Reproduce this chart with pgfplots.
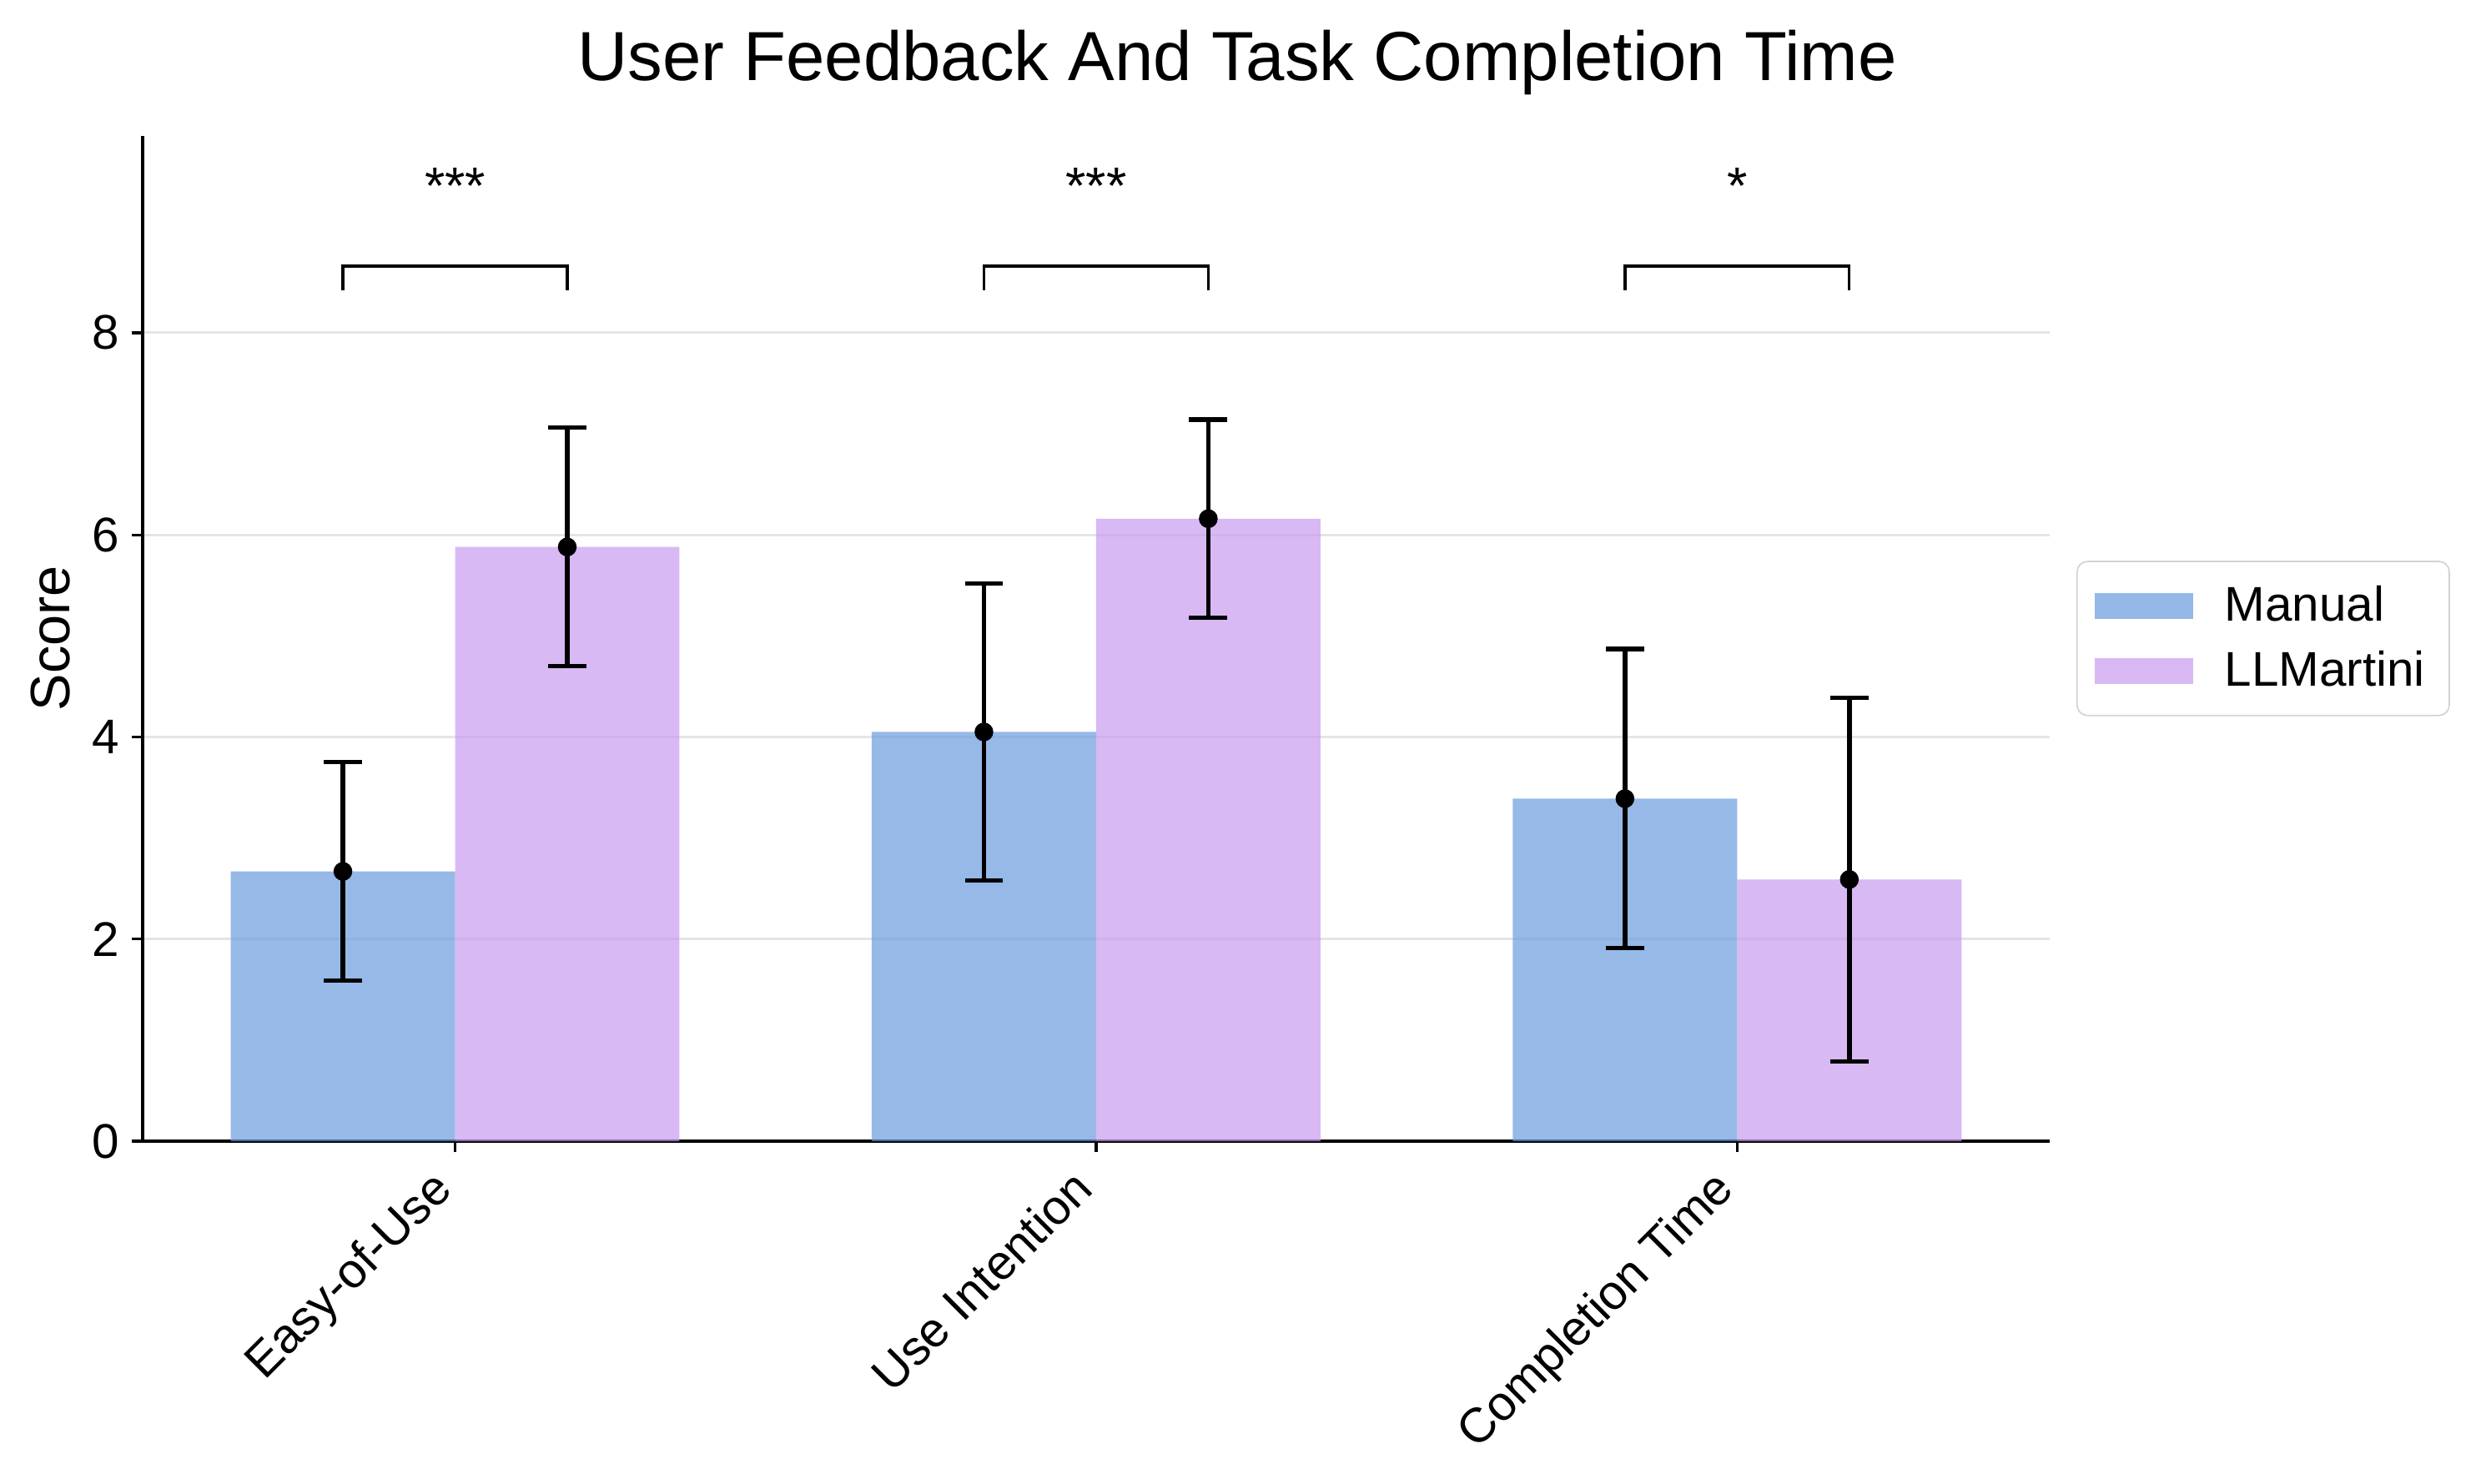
\documentclass[border=0pt]{standalone}
\usepackage{pgfplots}
\pgfplotsset{compat=1.18}
\usepackage{fontspec}
\setmainfont{Liberation Sans}

\definecolor{manualc}{RGB}{106,155,222}
\definecolor{llmc}{RGB}{199,155,238}
\definecolor{gridc}{RGB}{229,229,229}

\pgfplotstableread{
x     y     err
-0.175 2.67 1.08
0.825  4.05 1.47
1.825  3.39 1.48
}\manual
\pgfplotstableread{
x     y     err
0.175 5.88 1.18
1.175 6.16 0.98
2.175 2.59 1.80
}\llm

\begin{document}
\begin{tikzpicture}
\useasboundingbox (-41pt,-98.5pt) rectangle (671pt,328.2pt);
\begin{axis}[
  at={(0,0)}, anchor=south west, scale only axis,
  width=548.4pt, height=289.2pt,
  xmin=-0.4875, xmax=2.4875, ymin=0, ymax=9.95,
  axis x line*=bottom, axis y line*=left,
  axis line style={line width=0.8pt, -},
  xtick={0,1,2}, xticklabels={Easy-of-Use, Use Intention, Completion Time},
  ytick={0,2,4,6,8},
  tick style={black, line width=0.8pt},
  major tick length=3.2pt, tick align=outside,
  ymajorgrids, grid style={gridc, line width=0.7pt},
  /pgf/number format/assume math mode=true,
  tick label style={font=\fontsize{14}{16.8}\selectfont},
  xticklabel style={xshift=-7.5pt, yshift=-1pt, rotate=45, anchor=north east, inner sep=2pt},
  ylabel={Score},
  ylabel style={font=\fontsize{16}{19.2}\selectfont, at={(axis description cs:-0.0483,0.5)}, anchor=center},
  title={User Feedback And Task Completion Time},
  title style={font=\fontsize{20}{24}\selectfont, at={(axis description cs:0.574,1)}, anchor=center, yshift=15pt},
  legend style={at={(1.014,0.5)}, anchor=west, draw=gray!35, rounded corners=3pt,
    font=\fontsize{14}{16.8}\selectfont, row sep=3pt, inner xsep=5pt, inner ysep=5pt,
    /tikz/every odd column/.append style={column sep=7pt}},
  legend cell align=left,
  legend image code/.code={\draw[#1, draw=none, sharp corners] (0cm,-0.13cm) rectangle (1.0cm,0.13cm);},
]
\addplot[ybar, bar width=0.35, bar shift=0pt, fill=manualc, fill opacity=0.7, draw=none] table[x=x, y=y] {\manual};
\addlegendentry{Manual}
\addplot[ybar, bar width=0.35, bar shift=0pt, fill=llmc, fill opacity=0.7, draw=none] table[x=x, y=y] {\llm};
\addlegendentry{LLMartini}

\addplot[only marks, mark=*, mark size=2.5pt, black, forget plot,
  error bars/.cd, y dir=both, y explicit,
  error bar style={line width=1.3pt, black},
  error mark options={rotate=90, line width=1.3pt, mark size=5.5pt, black}]
  table[x=x, y=y, y error=err] {\manual};
\addplot[only marks, mark=*, mark size=2.5pt, black, forget plot,
  error bars/.cd, y dir=both, y explicit,
  error bar style={line width=1.3pt, black},
  error mark options={rotate=90, line width=1.3pt, mark size=5.5pt, black}]
  table[x=x, y=y, y error=err] {\llm};

% significance brackets
\draw[line width=0.8pt] (axis cs:-0.175,8.42) -- (axis cs:-0.175,8.66) -- (axis cs:0.175,8.66) -- (axis cs:0.175,8.42);
\draw[line width=0.8pt] (axis cs:0.825,8.42) -- (axis cs:0.825,8.66) -- (axis cs:1.175,8.66) -- (axis cs:1.175,8.42);
\draw[line width=0.8pt] (axis cs:1.825,8.42) -- (axis cs:1.825,8.66) -- (axis cs:2.175,8.66) -- (axis cs:2.175,8.42);
\node[anchor=base, font=\fontsize{15}{18}\selectfont, inner sep=0pt] at (axis cs:0,9.27) {***};
\node[anchor=base, font=\fontsize{15}{18}\selectfont, inner sep=0pt] at (axis cs:1,9.27) {***};
\node[anchor=base, font=\fontsize{15}{18}\selectfont, inner sep=0pt] at (axis cs:2,9.27) {*};
\end{axis}
\end{tikzpicture}
\end{document}
